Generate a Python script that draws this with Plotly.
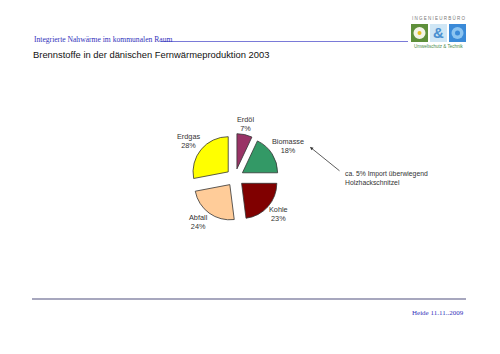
import plotly.graph_objects as go

W, H = 500, 354

def px(x):
    return x / W

def py(y):
    return 1 - y / H

# ---- data ----
fuels = ["Erdöl", "Biomasse", "Kohle", "Abfall", "Erdgas"]
shares = [7, 18, 23, 24, 28]
colors = ["#993366", "#339966", "#800000", "#FFCC99", "#FFFF00"]

header_text = "Integrierte Nahwärme im kommunalen Raum"
title_text = "Brennstoffe in der dänischen Fernwärmeproduktion 2003"
note_text = "ca. 5% Import überwiegend<br>Holzhackschnitzel"
footer_text = "Heide 11.11..2009"

# label positions (pixel centers)
label_pos = [(245, 124), (288, 146), (278, 214), (198, 222), (188, 141)]

cx, cy, size = 235, 177.5, 88

fig = go.Figure()
fig.add_trace(go.Pie(
    labels=fuels, values=shares, sort=False, direction="clockwise", rotation=0,
    marker=dict(colors=colors, line=dict(color="#333333", width=0.8)),
    pull=[0.25] * len(fuels), textinfo="none", hoverinfo="label+percent",
    showlegend=False,
    domain=dict(x=[px(cx - size / 2), px(cx + size / 2)],
                y=[py(cy + size / 2), py(cy - size / 2)]),
))

annotations = []
total = sum(shares)
for name, val, (lx, ly) in zip(fuels, shares, label_pos):
    annotations.append(dict(
        x=px(lx), y=py(ly), xref="paper", yref="paper", showarrow=False,
        text=f"{name}<br>{round(val / total * 100)}%",
        font=dict(family="Liberation Sans", size=7.3, color="#333333"),
        xanchor="center", yanchor="middle"))

# note with arrow
annotations.append(dict(
    x=px(310), y=py(147), ax=31, ay=25, xref="paper", yref="paper",
    axref="pixel", ayref="pixel", showarrow=True, arrowhead=2, arrowsize=0.8,
    arrowwidth=0.8, arrowcolor="#333333", text=""))
annotations.append(dict(
    x=px(343), y=py(178), xref="paper", yref="paper", showarrow=False,
    text=note_text, align="left", xanchor="left", yanchor="middle",
    font=dict(family="Liberation Sans", size=6.8, color="#333333")))

# header / title / footer
annotations.append(dict(
    x=px(32), y=py(40), xref="paper", yref="paper", showarrow=False,
    text=header_text, xanchor="left", yanchor="middle",
    font=dict(family="Liberation Serif", size=7.6, color="#3333bb")))
annotations.append(dict(
    x=px(31), y=py(54), xref="paper", yref="paper", showarrow=False,
    text=title_text, xanchor="left", yanchor="middle",
    font=dict(family="Liberation Sans", size=9.4, color="#111111")))
annotations.append(dict(
    x=px(466), y=py(313), xref="paper", yref="paper", showarrow=False,
    text=footer_text, xanchor="right", yanchor="middle",
    font=dict(family="Liberation Serif", size=7, color="#3333bb")))

# logo texts
annotations.append(dict(
    x=px(438.5), y=py(18), xref="paper", yref="paper", showarrow=False,
    text="I N G E N I E U R B Ü R O", xanchor="center", yanchor="middle",
    font=dict(family="Liberation Sans", size=4.5, color="#777777")))
annotations.append(dict(
    x=px(438.5), y=py(46.5), xref="paper", yref="paper", showarrow=False,
    text="Umweltschutz &amp; Technik", xanchor="center", yanchor="middle",
    font=dict(family="Liberation Sans", size=4.5, color="#4a8a4a")))
annotations.append(dict(
    x=px(438.5), y=py(33), xref="paper", yref="paper", showarrow=False,
    text="<b>&amp;</b>", xanchor="center", yanchor="middle",
    font=dict(family="Liberation Sans", size=15, color="#4a90d0")))

shapes = [
    dict(type="line", xref="paper", yref="paper", x0=px(161), x1=px(408),
         y0=py(41.5), y1=py(41.5), line=dict(color="#7a7ad8", width=1)),
    dict(type="line", xref="paper", yref="paper", x0=px(32), x1=px(466),
         y0=py(299), y1=py(299), line=dict(color="#8a8aa8", width=1.5)),
    # logo squares
    dict(type="rect", xref="paper", yref="paper", x0=px(411), x1=px(428),
         y0=py(42), y1=py(24), fillcolor="#5e8f3a", line=dict(width=0)),
    dict(type="circle", xref="paper", yref="paper", x0=px(413.5), x1=px(425.5),
         y0=py(39), y1=py(27), fillcolor="#f4f4e8", line=dict(width=0)),
    dict(type="circle", xref="paper", yref="paper", x0=px(417.5), x1=px(421.5),
         y0=py(35), y1=py(31), fillcolor="#e8c020", line=dict(width=0)),
    dict(type="rect", xref="paper", yref="paper", x0=px(430), x1=px(447),
         y0=py(42), y1=py(24), fillcolor="#cfe6f5", line=dict(width=0)),
    dict(type="rect", xref="paper", yref="paper", x0=px(449), x1=px(466),
         y0=py(42), y1=py(24), fillcolor="#3a8ad8", line=dict(width=0)),
    dict(type="circle", xref="paper", yref="paper", x0=px(451.5), x1=px(463.5),
         y0=py(39), y1=py(27), fillcolor="#8cc4f0", line=dict(width=0)),
    dict(type="circle", xref="paper", yref="paper", x0=px(455), x1=px(460),
         y0=py(35.5), y1=py(30.5), fillcolor="#3a8ad8", line=dict(width=0)),
]

fig.update_layout(
    width=W, height=H, margin=dict(l=0, r=0, t=0, b=0),
    paper_bgcolor="white", plot_bgcolor="white",
    annotations=annotations, shapes=shapes,
)

fig.write_html("out.html")
